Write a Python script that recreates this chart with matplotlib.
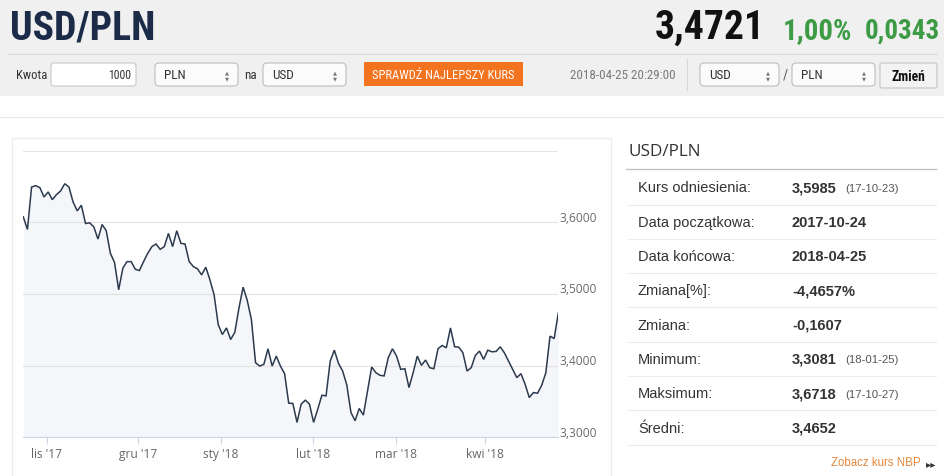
import matplotlib
matplotlib.use("Agg")
import matplotlib.pyplot as plt
import matplotlib.font_manager as fm
from matplotlib.font_manager import FontProperties
from matplotlib.patches import Rectangle, FancyBboxPatch
from matplotlib.transforms import ScaledTranslation

# ---------------- data ----------------
pair = "USD/PLN"
rate = "3,4721"
change_pct = "1,00%"
change_abs = "0,0343"
amount = "1000"
cur_from = "PLN"
cur_to = "USD"
timestamp = "2018-04-25 20:29:00"
button_text = "SPRAWDŹ NAJLEPSZY KURS"

values = [3.6076, 3.5900, 3.6492, 3.6511, 3.6483, 3.6353, 3.6423, 3.6316, 3.6386, 3.6437,
          3.6538, 3.6492, 3.6284, 3.6159, 3.6238, 3.5983, 3.5992, 3.5937, 3.5766, 3.5969,
          3.5882, 3.5567, 3.5438, 3.5058, 3.5359, 3.5451, 3.5451, 3.5345, 3.5327, 3.5451,
          3.5567, 3.5660, 3.5697, 3.5623, 3.5660, 3.5845, 3.5660, 3.5882, 3.5706, 3.5697,
          3.5451, 3.5382, 3.5350, 3.5266, 3.5373, 3.5197, 3.4989, 3.4573, 3.4434, 3.4526,
          3.4364, 3.4466, 3.4804, 3.5095, 3.4910, 3.4642, 3.4041, 3.3994, 3.4018, 3.4235,
          3.3994, 3.4133, 3.3994, 3.3888, 3.3476, 3.3472, 3.3208, 3.3463, 3.3518, 3.3463,
          3.3208, 3.3393, 3.3587, 3.3578, 3.4064, 3.4216, 3.4031, 3.3925, 3.3731, 3.3347,
          3.3231, 3.3402, 3.3310, 3.3648, 3.3981, 3.3902, 3.3865, 3.3856, 3.4110, 3.4235,
          3.4133, 3.3948, 3.3957, 3.3694, 3.3902, 3.4133, 3.4004, 3.4078, 3.3971, 3.3957,
          3.4235, 3.4281, 3.4249, 3.4526, 3.4263, 3.4258, 3.4179, 3.3925, 3.3971, 3.4142,
          3.4203, 3.4087, 3.4216, 3.4193, 3.4198, 3.4263, 3.4179, 3.4064, 3.3948, 3.3833,
          3.3888, 3.3740, 3.3555, 3.3624, 3.3615, 3.3726, 3.3902, 3.4411, 3.4378, 3.4734]

month_labels = ["lis '17", "gru '17", "sty '18", "lut '18", "mar '18", "kwi '18"]
month_index = [5.6, 27.7, 47.6, 69.8, 89.8, 111.3]
y_ticks = [3.3, 3.4, 3.5, 3.6, 3.7]
y_tick_labels = ["3,3000", "3,4000", "3,5000", "3,6000", ""]

table_title = "USD/PLN"
table_labels = ["Kurs odniesienia:", "Data początkowa:", "Data końcowa:", "Zmiana[%]:",
                "Zmiana:", "Minimum:", "Maksimum:", "Średni:"]
table_values = ["3,5985", "2017-10-24", "2018-04-25", "-4,4657%",
                "-0,1607", "3,3081", "3,6718", "3,4652"]
table_notes = ["(17-10-23)", "", "", "", "", "(18-01-25)", "(17-10-27)", ""]
link_text = "Zobacz kurs NBP"

# ---------------- fonts ----------------
avail = {f.name for f in fm.fontManager.ttflist}
ARIAL = "Liberation Sans"
OPEN = "Open Sans" if "Open Sans" in avail else "DejaVu Sans"


def narrow_font(bold):
    cands = []
    for f in fm.fontManager.ttflist:
        fn = f.fname.lower()
        if ("narrow" in fn or "condensed" in fn) and "italic" not in fn and "oblique" not in fn:
            isb = "bold" in fn or (isinstance(f.weight, int) and f.weight >= 600) or f.weight == "bold"
            if isb == bold:
                cands.append(f.fname)
    pref = [c for c in cands if "liberation" in c.lower()] + \
           [c for c in cands if "roboto" in c.lower()] + cands
    if pref:
        return FontProperties(fname=pref[0])
    return FontProperties(family=ARIAL, weight="bold" if bold else "normal")


NB = narrow_font(True)
NR = narrow_font(False)

W, H = 945, 477
fig = plt.figure(figsize=(W / 100, H / 100), dpi=100)
fig.patch.set_facecolor("white")
renderer = fig.canvas.get_renderer()

bg = fig.add_axes([0, 0, 1, 1])
bg.set_xlim(0, W)
bg.set_ylim(H, 0)
bg.axis("off")


def ntext(x, y, s, fp, size, width=None, **kw):
    t = bg.text(x, y, s, fontproperties=fp.copy(), **kw)
    t.set_fontsize(size)
    if width is not None:
        bb = t.get_window_extent(renderer)
        if bb.width > 0:
            t.set_fontsize(size * width / bb.width)
    return t


# header band
bg.add_patch(Rectangle((0, 0), W, 97, fc="#f0f0f0", ec="none"))
bg.plot([8, 937], [55, 55], color="#d9d9d9", lw=0.8)
bg.plot([0, W], [118, 118], color="#e8e8e8", lw=0.8)

ntext(10, 28, pair, NB, 30, width=145, color="#1c2b48", va="center", ha="left")
ntext(765, 28, rate, NB, 31, width=110, color="#111111", va="center", ha="right")
ntext(783, 31.5, change_pct, NB, 20, width=69, color="#3d9b45", va="center", ha="left")
ntext(940, 31.5, change_abs, NB, 20, width=75, color="#3d9b45", va="center", ha="right")

# form row
ry = 75.5
ntext(16, ry, "Kwota", NR, 8.5, width=31, color="#333333", va="center")
bg.add_patch(FancyBboxPatch((51, 64), 85, 23, boxstyle="round,pad=0,rounding_size=3",
                            fc="white", ec="#c8c8c8", lw=0.8))
ntext(131, ry, amount, NR, 8.5, width=23, color="#333333", va="center", ha="right")


def select(x0, x1, label):
    bg.add_patch(FancyBboxPatch((x0, 64), x1 - x0, 23, boxstyle="round,pad=0,rounding_size=4",
                                fc="#fbfbfb", ec="#bdbdbd", lw=0.8))
    ntext(x0 + 9, ry, label, NR, 9.5, color="#333333", va="center")
    bg.text(x1 - 11, ry - 3, "▲", fontsize=3.8, color="#777777", va="center", ha="center",
            family="DejaVu Sans")
    bg.text(x1 - 11, ry + 3, "▼", fontsize=3.8, color="#777777", va="center", ha="center",
            family="DejaVu Sans")


select(155, 238, cur_from)
ntext(244, ry, "na", NR, 9.5, color="#333333", va="center")
select(263, 346, cur_to)
bg.add_patch(Rectangle((364, 63), 159, 24, fc="#f4731f", ec="none"))
ntext(443.5, ry, button_text, NR, 8, width=142, color="white", va="center", ha="center")
ntext(676, ry, timestamp, NR, 8.4, width=104, color="#7a7a7a", va="center", ha="right")
bg.plot([687, 687], [60, 91], color="#d6d6d6", lw=0.8)
select(700, 779, cur_to)
ntext(785.5, ry, "/", NR, 10, color="#555555", va="center", ha="center")
select(792, 875, cur_from)
bg.add_patch(FancyBboxPatch((880, 64), 57, 25, boxstyle="round,pad=0,rounding_size=2",
                            fc="#f3f3f3", ec="#c4c4c4", lw=0.8))
ntext(908.5, 77, "Zmień", NB, 8.5, width=34, color="#111111", va="center", ha="center")

# chart panel border
bg.add_patch(Rectangle((12, 139), 599, 350, fc="none", ec="#ececec", lw=0.9))

# right table
bg.text(628, 152.5, table_title, fontsize=12.3, family=OPEN, color="#333333", va="center")
bg.plot([626, 936], [169.5, 169.5], color="#bdbdbd", lw=0.9)
row_y0, row_h = 188.5, 34.3
for i, (lab, val, note) in enumerate(zip(table_labels, table_values, table_notes)):
    yy = row_y0 + i * row_h
    bg.text(638, yy, lab, fontsize=10.5, family=ARIAL, color="#333333", va="center")
    bg.text(792, yy, val, fontsize=10.5, family=ARIAL, color="#333333", va="center",
            fontweight="bold")
    if note:
        bg.text(845, yy + 0.5, note, fontsize=8.2, family=ARIAL, color="#555555", va="center")
    sep = yy + 17
    bg.plot([628, 936], [sep, sep], color="#ececec", lw=0.8)
bg.text(921, 463.5, link_text, fontsize=8.3, family=ARIAL, color="#e5883e", va="center", ha="right")
bg.text(936, 464, "▸▸", fontsize=7.5, family="DejaVu Sans", color="#333333", va="center", ha="right")

# ---------------- chart ----------------
left, right, top, bottom = 23.3, 558.3, 151.6, 438.3
ax = fig.add_axes([left / W, 1 - bottom / H, (right - left) / W, (bottom - top) / H])
ax.patch.set_alpha(0)
x = list(range(len(values)))
ax.fill_between(x, values, y_ticks[0], color="#f4f6f9", lw=0, zorder=1)
ax.plot(x, values, color="#2c3a4e", lw=1.1, zorder=3, solid_joinstyle="miter")
ax.set_xlim(0, len(values) - 1)
ax.set_ylim(y_ticks[0], y_ticks[-1])

ax.set_yticks(y_ticks)
ax.set_yticklabels(y_tick_labels)
ax.yaxis.tick_right()
ax.tick_params(axis="y", length=0, pad=1, labelsize=8.6, labelcolor="#6a6a6a")
for lbl in ax.get_yticklabels():
    lbl.set_fontfamily(OPEN)
    lbl.set_transform(lbl.get_transform() + ScaledTranslation(0, 6.6 / 100, fig.dpi_scale_trans))
ax.grid(axis="y", color="#e3e3e3", lw=0.8, zorder=0)

ax.set_xticks(month_index)
ax.set_xticklabels(month_labels)
ax.tick_params(axis="x", direction="out", length=5, width=0.8, color="#ccd6eb", pad=2,
               labelsize=8.6, labelcolor="#666666")
for lbl in ax.get_xticklabels():
    lbl.set_fontfamily(OPEN)

for s in ["top", "left", "right"]:
    ax.spines[s].set_visible(False)
ax.spines["bottom"].set_color("#ccd6eb")
ax.spines["bottom"].set_linewidth(0.8)

fig.savefig("out.png", dpi=100, facecolor="white")
